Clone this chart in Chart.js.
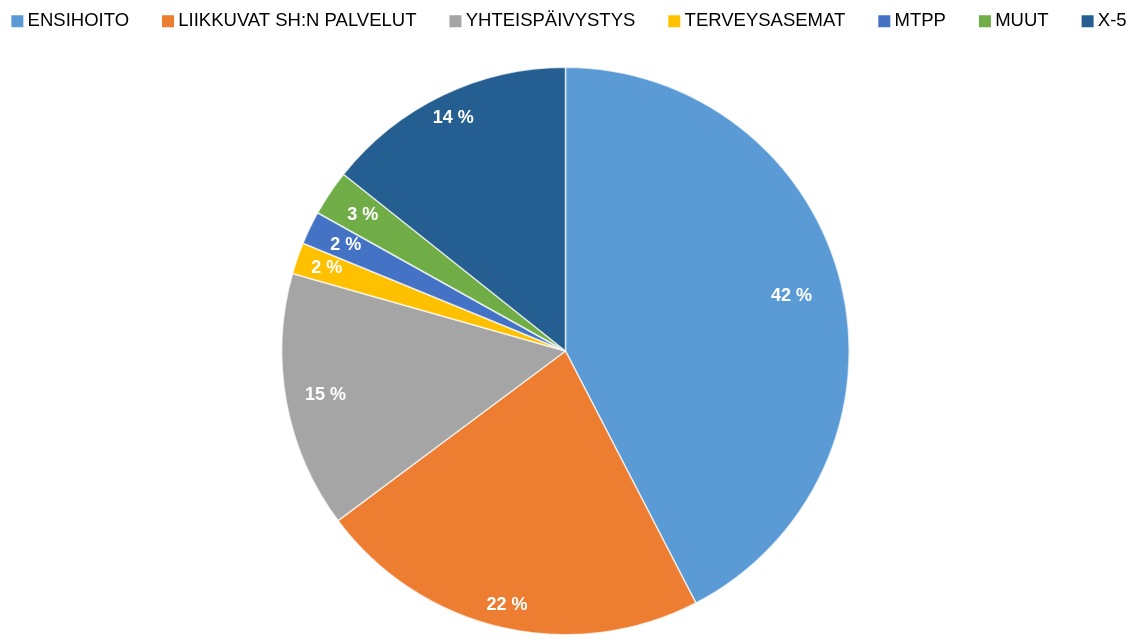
<!DOCTYPE html>
<html>
<head>
<meta charset="utf-8">
<script src="https://cdn.jsdelivr.net/npm/chart.js@4/dist/chart.umd.min.js"></script>
<style>
  html, body { margin: 0; padding: 0; background: #fff; }
  #wrap { width: 1131px; height: 641px; position: relative; }
</style>
</head>
<body>
<div id="wrap"><canvas id="pie"></canvas></div>
<script>
// categories and shares (%)
const categories = ["ENSIHOITO", "LIIKKUVAT SH:N PALVELUT", "YHTEISPÄIVYSTYS", "TERVEYSASEMAT", "MTPP", "MUUT", "X-5"]
const shares = [42.4, 22.4, 14.6, 1.8, 1.9, 2.6, 14.3]
const colors = ["#5B9BD5", "#ED7D31", "#A5A5A5", "#FFC000", "#4472C4", "#70AD47", "#255E91"]

// where each label sits, as a fraction of the radius
const labelRadius = [0.82, 0.92, 0.86, 0.89, 0.86, 0.86, 0.91]

// white percentage labels inside the slices
const sliceLabels = {
  id: "sliceLabels",
  afterDatasetsDraw(chart) {
    const ctx = chart.ctx
    const meta = chart.getDatasetMeta(0)
    const total = shares.reduce((a, b) => a + b, 0)
    ctx.save()
    ctx.font = "bold 18px 'Liberation Sans', Arial, sans-serif"
    ctx.fillStyle = "#fff"
    ctx.textAlign = "center"
    ctx.textBaseline = "middle"
    meta.data.forEach((arc, i) => {
      const mid = (arc.startAngle + arc.endAngle) / 2
      const r = arc.outerRadius * labelRadius[i]
      const x = arc.x + Math.cos(mid) * r
      const y = arc.y + Math.sin(mid) * r
      ctx.fillText(Math.round(shares[i] / total * 100) + " %", x, y)
    })
    ctx.restore()
  },
}

// pull the legend up to the top edge (its padding also sets the item spacing)
const legendShift = {
  id: "legendShift",
  afterLayout(chart) {
    const lg = chart.legend
    lg.top -= 26
    lg.bottom -= 26
    lg.left += 6
    lg.right += 6
  },
}

new Chart(document.getElementById("pie"), {
  type: "pie",
  data: {
    labels: categories,
    datasets: [
      {
        data: shares,
        backgroundColor: colors,
        borderColor: "rgba(255, 255, 255, 0.7)",
        borderWidth: 1.5,
      },
    ],
  },
  options: {
    responsive: true,
    maintainAspectRatio: false,
    animation: false,
    layout: {
      padding: { top: 0, bottom: 5.5, left: -40, right: -40 },
    },
    plugins: {
      legend: {
        position: "top",
        labels: {
          color: "#595959",
          font: { family: "'Liberation Sans', Arial, sans-serif", size: 18.5 },
          usePointStyle: true,
          pointStyle: "rect",
          boxWidth: 2,
          boxHeight: 12,
          padding: 38,
          generateLabels(chart) {
            return categories.map((c, i) => ({
              text: c,
              fillStyle: colors[i],
              strokeStyle: colors[i],
              lineWidth: 0,
              pointStyle: "rect",
              index: i,
            }))
          },
        },
      },
      tooltip: { enabled: false },
    },
  },
  plugins: [sliceLabels, legendShift],
})
</script>
</body>
</html>
